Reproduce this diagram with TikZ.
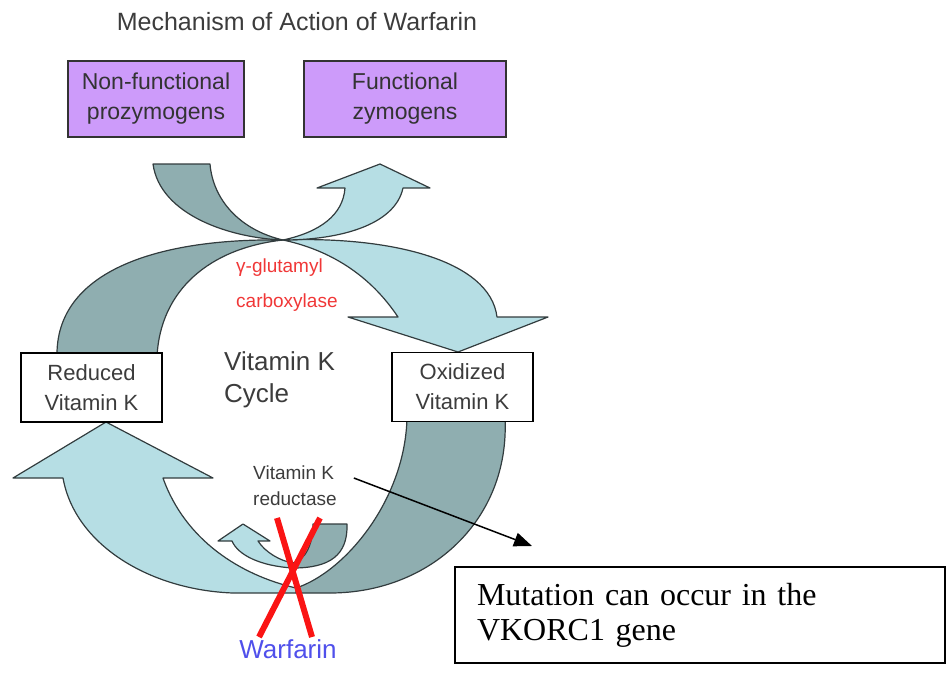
\documentclass[tikz,border=0pt]{standalone}
\usepackage{fontspec}
\setmainfont{Liberation Sans}
\newfontfamily\notefont{Liberation Serif}
\usetikzlibrary{arrows.meta}

\definecolor{lilac}{RGB}{205,155,250}
\definecolor{tealdark}{RGB}{143,174,176}
\definecolor{teallight}{RGB}{182,222,228}
\definecolor{bandline}{RGB}{50,60,62}
\definecolor{enzred}{RGB}{240,55,55}
\definecolor{crossred}{RGB}{250,20,20}
\definecolor{warfblue}{RGB}{80,80,235}
\definecolor{labelgray}{RGB}{60,60,60}

\begin{document}
\begin{tikzpicture}[x=1pt,y=1pt,yscale=-1,xscale=1,
	darkband/.style={fill=tealdark, draw=bandline, line width=1.2, line join=round},
	lightband/.style={fill=teallight, draw=bandline, line width=1.2, line join=round},
	protbox/.style={draw=black!80, line width=1.5, fill=lilac, minimum height=76, align=center, inner sep=0pt, text=black!80, font=\fontsize{23}{30}\selectfont},
	vkbox/.style={draw=black, line width=1.5, fill=white, minimum width=141, minimum height=69, align=center, inner sep=0pt, text=labelgray, font=\fontsize{22}{30}\selectfont},
	crossline/.style={draw=crossred, line width=6}]
		\useasboundingbox (0,0) rectangle (949,675);

		% Title
		\node[text=labelgray, font=\fontsize{25}{28}\selectfont] (title) at (297,22) {Mechanism of Action of Warfarin};

		% Big dark arc from reduced vitamin K up to the carboxylase crossing
		\draw[darkband] (57,357) .. controls (55,270) and (160,238) .. (283,240) .. controls (210,248) and (160,290) .. (157,357) -- cycle;

		% Big light arrow from the crossing down to oxidized vitamin K
		\draw[lightband] (283,240) .. controls (390,236) and (490,260) .. (497,317) -- (548,317) -- (458,352) -- (348,317) -- (398,317) .. controls (370,275) and (330,250) .. (283,240) -- cycle;

		% Dark arrow coming in from the prozymogens
		\draw[darkband] (153,164) .. controls (160,215) and (230,238) .. (283,240) .. controls (240,230) and (213,200) .. (210,164) -- cycle;

		% Light arrow going out to the zymogens
		\draw[lightband] (283,240) .. controls (320,232) and (343,215) .. (345,188) -- (317,188) -- (380,164) -- (430,188) -- (403,188) .. controls (395,225) and (340,240) .. (283,240) -- cycle;

		% Big dark arc from oxidized vitamin K down to the reductase
		\draw[darkband] (505,418) .. controls (510,520) and (430,593) .. (330,593) -- (296,593) -- (296,588) .. controls (345,572) and (405,500) .. (407,418) -- cycle;

		% Big light arrow from the reductase up to reduced vitamin K
		\draw[lightband] (296,593) -- (233,593) .. controls (150,590) and (75,545) .. (63,478) -- (13,478) -- (106,422) -- (213,478) -- (163,478) .. controls (185,540) and (240,575) .. (296,588) -- cycle;

		% Small reductase arrow, light half with head and dark half
		\draw[lightband] (293,568) .. controls (260,566) and (238,555) .. (232,541) -- (218,541) -- (243,524) -- (270,541) -- (258,541) .. controls (265,552) and (280,561) .. (293,563) -- cycle;
		\draw[darkband] (293,563) .. controls (305,560) and (313,545) .. (313,524) -- (347,524) .. controls (348,555) and (330,568) .. (293,568) -- cycle;

		% Zymogen boxes
		\node[protbox, minimum width=176] (nonfunc) at (156,99) {Non-functional\\prozymogens};
		\node[protbox, minimum width=202] (func) at (405,99) {Functional\\zymogens};

		% Vitamin K boxes
		\node[vkbox] (reduced) at (91.5,387.5) {Reduced\\Vitamin K};
		\node[vkbox] (oxidized) at (462.5,387) {Oxidized\\Vitamin K};

		% Labels inside the cycle
		\node[anchor=west, align=left, inner sep=0pt, text=enzred, font=\fontsize{19}{35}\selectfont] (carbox) at (236,285) {γ-glutamyl\\carboxylase};
		\node[anchor=west, align=left, inner sep=0pt, text=labelgray, font=\fontsize{26}{32}\selectfont] (cycle) at (224,380) {Vitamin K\\Cycle};
		\node[anchor=west, align=left, inner sep=0pt, text=labelgray, font=\fontsize{19}{26}\selectfont] (reductase) at (253,486) {Vitamin K\\reductase};

		% Warfarin blocks the reductase
		\draw[crossline] (277,518) -- (312,637);
		\draw[crossline] (320,518) -- (259,637);
		\node[text=warfblue, font=\fontsize{26}{30}\selectfont] (warfarin) at (288,649) {Warfarin};

		% Note on the VKORC1 gene
		\node[draw=black, line width=1.5, fill=white, minimum height=96, text width=446, inner xsep=22, align=left, font=\notefont\fontsize{32}{35}\selectfont] (mutation) at (700,615) {Mutation can occur in the\\VKORC1 gene};
		\coordinate (mutarrow) at (532,546);
		\draw[-{Triangle[length=18,width=14]}, line width=1.5] ([shift={(17,-8)}]reductase.east) -- (mutarrow);
	\end{tikzpicture}
\end{document}
